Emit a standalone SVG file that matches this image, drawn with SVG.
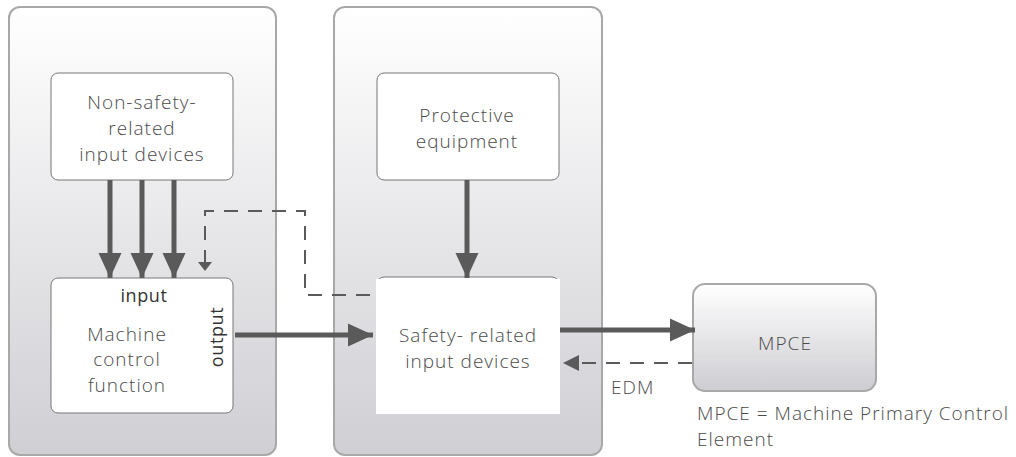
<svg xmlns="http://www.w3.org/2000/svg" width="1016" height="457" viewBox="0 0 1016 457">
<defs>
<linearGradient id="pg" x1="0" y1="0" x2="0" y2="1">
<stop offset="0" stop-color="#ffffff"/>
<stop offset="1" stop-color="#cfcfd4"/>
</linearGradient>
<linearGradient id="mg" x1="0" y1="0" x2="0" y2="1">
<stop offset="0" stop-color="#ffffff"/>
<stop offset="1" stop-color="#cdcdd2"/>
</linearGradient>
<marker id="ah" markerWidth="5" markerHeight="5" refX="5" refY="2.5" orient="auto" markerUnits="strokeWidth">
<path d="M0,0.2 L5,2.5 L0,4.8 Z" fill="#5a5a5a"/>
</marker>
</defs>
<style>
.panel{fill:url(#pg);stroke:#a8a8a8;stroke-width:2}
.box{fill:#fff;stroke:#777;stroke-width:1}
.t{font-family:"Open Sans","Noto Sans",sans-serif;font-weight:300;font-size:19px;letter-spacing:1px;fill:#4a4a4a;text-anchor:middle}
.tl{font-family:"Open Sans","Noto Sans",sans-serif;font-weight:300;font-size:19px;letter-spacing:1px;fill:#4a4a4a}
.b{font-weight:400;fill:#333;letter-spacing:0.6px;font-size:18px}
.s{stroke:#5a5a5a;stroke-width:5;fill:none}
.d{stroke:#5a5a5a;stroke-width:2;fill:none;stroke-dasharray:14,10}
</style>
<g id="panel-left"><rect class="panel" x="9" y="7" width="267" height="448" rx="11"/></g>
<g id="panel-right"><rect class="panel" x="334" y="7" width="268" height="448" rx="11"/></g>
<g id="non-safety">
<rect class="box" x="51" y="73" width="182" height="107" rx="7"/>
<text class="t" x="142" y="109">Non-safety-</text>
<text class="t" x="142" y="135">related</text>
<text class="t" x="142" y="161">input devices</text>
</g>
<g id="machine-control">
<rect class="box" x="51" y="278" width="182" height="135" rx="7"/>
<text class="t b" x="144" y="302">input</text>
<text class="t" x="127" y="341">Machine</text>
<text class="t" x="127" y="366">control</text>
<text class="t" x="127" y="392">function</text>
<text class="t b" transform="translate(223,337) rotate(-90)">output</text>
</g>
<g id="protective">
<rect class="box" x="377" y="73" width="182" height="107" rx="7"/>
<text class="t" x="467" y="122">Protective</text>
<text class="t" x="467" y="148">equipment</text>
</g>
<g id="safety">
<rect class="box" x="377" y="277" width="182" height="136" rx="7"/>
<rect x="376" y="279" width="184" height="135" fill="#fff"/>
<text class="t" x="468" y="342">Safety- related</text>
<text class="t" x="468" y="368">input devices</text>
</g>
<g id="mpce">
<rect x="693" y="284" width="183" height="107" rx="12" fill="url(#mg)" stroke="#a8a8a8" stroke-width="2"/>
<text class="t" x="785" y="350">MPCE</text>
</g>
<g id="connectors">
<line class="s" x1="110" y1="180" x2="110" y2="278" marker-end="url(#ah)"/>
<line class="s" x1="142" y1="180" x2="142" y2="278" marker-end="url(#ah)"/>
<line class="s" x1="174" y1="180" x2="174" y2="278" marker-end="url(#ah)"/>
<line class="s" x1="467" y1="180" x2="467" y2="278" marker-end="url(#ah)"/>
<line class="s" x1="235" y1="335" x2="373" y2="335" marker-end="url(#ah)"/>
<line class="s" x1="560" y1="330" x2="695" y2="330" marker-end="url(#ah)"/>
<path class="d" d="M370,295 H305 V211 H205 V262"/>
<path d="M198,262 L212,262 L205,271 Z" fill="#5a5a5a"/>
<path class="d" d="M692,363 H575"/>
<path d="M579,355 L579,371 L563,363 Z" fill="#5a5a5a"/>
</g>
<text class="tl" x="611" y="394">EDM</text>
<text class="tl" x="697" y="420">MPCE = Machine Primary Control</text>
<text class="tl" x="697" y="446">Element</text>
</svg>
